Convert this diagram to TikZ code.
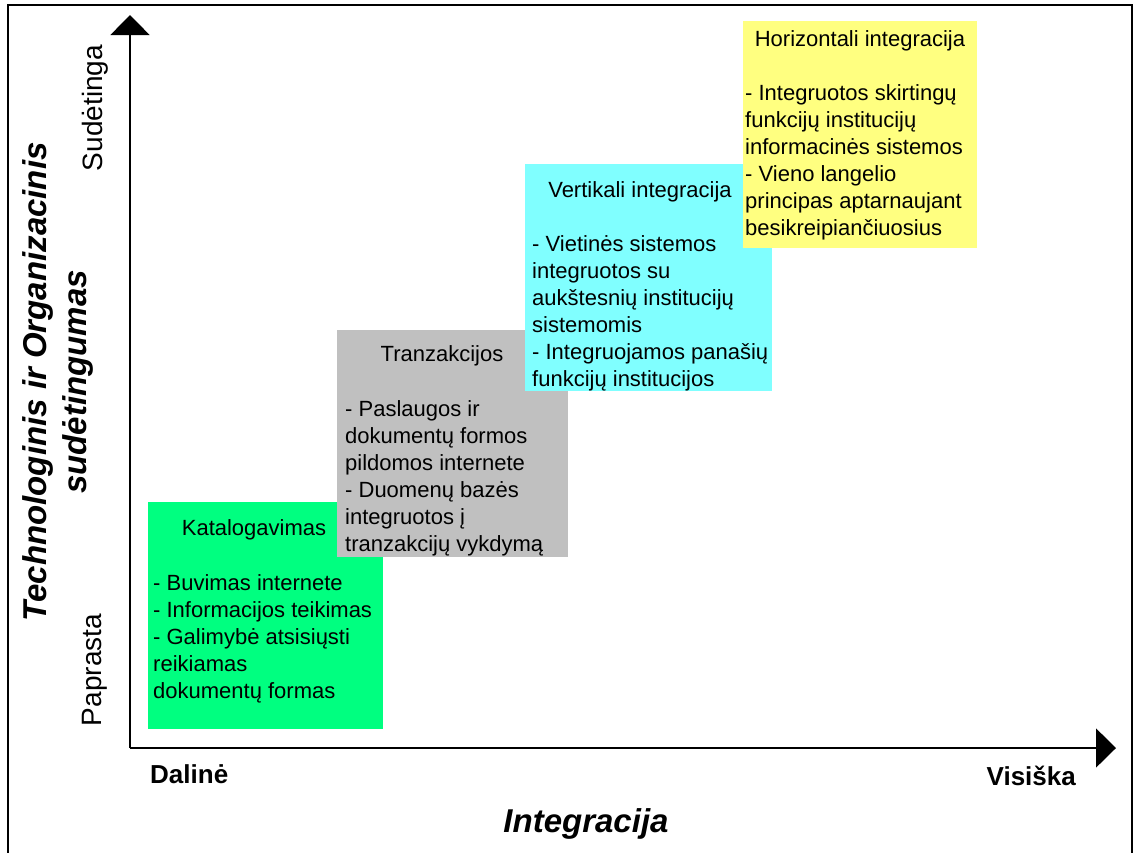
\documentclass[tikz,border=0pt]{standalone}
\usepackage{fontspec}
\setmainfont{Liberation Sans}
\usepackage{tikz}
\usetikzlibrary{arrows.meta,positioning}
\definecolor{katalog}{RGB}{0,255,128}
\definecolor{tranz}{RGB}{192,192,192}
\definecolor{vertik}{RGB}{128,255,255}
\definecolor{horiz}{RGB}{255,255,128}
\tikzset{
  stage/.style={fill=#1, inner sep=0pt, anchor=north west},
  stagetitle/.style={anchor=base, inner sep=0pt, font=\fontsize{22}{27}\selectfont},
  stageitem/.style={anchor=base west, inner sep=0pt, font=\fontsize{22}{27}\selectfont},
  scalelabel/.style={rotate=90, anchor=base, inner sep=0pt, font=\fontsize{28}{34}\selectfont},
  extent/.style={inner sep=0pt, font=\bfseries\fontsize{26}{31}\selectfont},
  axistitle/.style={inner sep=0pt, font=\bfseries\itshape\fontsize{33}{40}\selectfont},
}

\begin{document}
\begin{tikzpicture}[x=1pt,y=-1pt,
    > = {Triangle[length=20pt,width=39pt]}
    ]
    \useasboundingbox (0,0) rectangle (1134,852);
    % Frame
    \draw[line width=2pt] (8,870) -- (8,5) -- (1132,5) -- (1132,870);
    % Axes
    \coordinate (o) at (130,748);
    \coordinate (ytop) at (130,15);
    \coordinate (xend) at (1116,748);
    \draw[->,line width=1.5pt] (o) -- (ytop);
    \draw[->,line width=1.5pt] (o) -- (xend);
    % Katalogavimas
    \node[stage=katalog, minimum width=235pt, minimum height=227pt] (kat) at (148,502) {};
    \node[stagetitle] (kat-t) at (254,535) {Katalogavimas};
    \foreach \txt [count=\i] in {- Buvimas internete, - Informacijos teikimas,
        - Galimybė atsisiųsti, reikiamas, dokumentų formas}
        \node[stageitem] (kat-\i) at (153,{590+27*(\i-1)}) {\txt};
    % Tranzakcijos
    \node[stage=tranz, minimum width=231pt, minimum height=227pt] (tra) at (337,330) {};
    \node[stagetitle] (tra-t) at (442,361) {Tranzakcijos};
    \foreach \txt [count=\i] in {- Paslaugos ir, dokumentų formos, pildomos internete,
        - Duomenų bazės, integruotos į, tranzakcijų vykdymą}
        \node[stageitem] (tra-\i) at (345,{416+27*(\i-1)}) {\txt};
    % Vertikali integracija
    \node[stage=vertik, minimum width=247pt, minimum height=227pt] (ver) at (525,164) {};
    \node[stagetitle] (ver-t) at (640,197) {Vertikali integracija};
    \foreach \txt [count=\i] in {- Vietinės sistemos, integruotos su, aukštesnių institucijų,
        sistemomis, - Integruojamos panašių, funkcijų institucijos}
        \node[stageitem] (ver-\i) at (532,{251+27*(\i-1)}) {\txt};
    % Horizontali integracija
    \node[stage=horiz, minimum width=234pt, minimum height=227pt] (hor) at (743,21) {};
    \node[stagetitle] (hor-t) at (860,46) {Horizontali integracija};
    \foreach \txt [count=\i] in {- Integruotos skirtingų, funkcijų institucijų, informacinės sistemos,
        - Vieno langelio, principas aptarnaujant, besikreipiančiuosius}
        \node[stageitem] (hor-\i) at (745,{100+27*(\i-1)}) {\txt};
    % Labels
    \node[scalelabel] (sud) at (102,108) {Sudėtinga};
    \node[scalelabel] (pap) at (101,670) {Paprasta};
    \node[extent, anchor=base west] (dal) at (150,783) {Dalinė};
    \node[extent, anchor=base east] (vis) at (1076,785) {Visiška};
    \node[axistitle, anchor=base] (integ) at (586,832) {Integracija};
    \node[axistitle, rotate=90, align=center] (sudet) at (58,382)
        {Technologinis ir Organizacinis\\sudėtingumas};
\end{tikzpicture}
\end{document}
